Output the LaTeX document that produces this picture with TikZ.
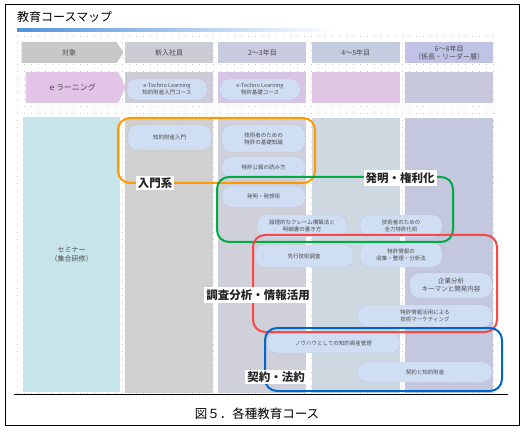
\documentclass[tikz,border=0pt]{standalone}
\usepackage{fontspec}
\setmainfont{Noto Sans CJK JP}
\usetikzlibrary{shapes.symbols, positioning}
\definecolor{headA}{RGB}{200, 200, 200}
\definecolor{headB}{RGB}{204, 204, 212}
\definecolor{headC}{RGB}{202, 202, 224}
\definecolor{headD}{RGB}{196, 205, 224}
\definecolor{headE}{RGB}{192, 194, 230}
\definecolor{elearnA}{RGB}{226, 196, 230}
\definecolor{elearnB}{RGB}{206, 203, 216}
\definecolor{elearnC}{RGB}{216, 196, 228}
\definecolor{elearnD}{RGB}{224, 198, 228}
\definecolor{elearnE}{RGB}{200, 200, 220}
\definecolor{semA}{RGB}{198, 228, 234}
\definecolor{semB}{RGB}{208, 208, 208}
\definecolor{semC}{RGB}{208, 208, 218}
\definecolor{semD}{RGB}{205, 216, 224}
\definecolor{semE}{RGB}{196, 200, 222}
\definecolor{pillfill}{RGB}{208, 222, 244}
\definecolor{pillline}{RGB}{165, 170, 212}
\definecolor{grporange}{RGB}{255, 153, 0}
\definecolor{grpgreen}{RGB}{0, 170, 68}
\definecolor{grpred}{RGB}{250, 70, 70}
\definecolor{grpblue}{RGB}{0, 102, 204}
\definecolor{baseline}{RGB}{80, 110, 135}

\begin{document}
\begin{tikzpicture}[
    x=1pt, y=-1pt,
    % Styles embedded for portability
    cell_head/.style={rectangle, inner sep=0pt, minimum width=88pt, minimum height=21pt, align=center, font=\fontsize{7}{8}\selectfont, text=black!70},
    cell_row/.style={rectangle, inner sep=0pt, minimum width=88pt, minimum height=31pt, align=center},
    cell_sem/.style={rectangle, inner sep=0pt, minimum width=88pt, minimum height=275pt, align=center},
    arrow_cell/.style={signal, signal to=east, inner sep=0pt, align=center, text=black!70},
    pill/.style={rectangle, rounded corners=9pt, inner sep=0pt, align=center, draw=pillline, densely dotted, fill=pillfill, font=\fontsize{5.5}{7}\selectfont, text=black!70},
    grp/.style={rounded corners=12pt, line width=2pt},
    grp_label/.style={fill=white, inner sep=2pt, font=\fontsize{11.5}{13}\selectfont\bfseries, text=black!85},
    bgdots/.style={gray!45, line width=0.6pt, dash pattern=on 0.6pt off 6.4pt}
]
    \useasboundingbox (0,0) rectangle (528,433);

    % --- FRAME & TITLE ---
    \draw[black, line width=1pt] (5,5) rectangle (519,425);
    \foreach \yy in {36,43,...,393}
        \draw[bgdots] (17,\yy) -- (500,\yy);
    \node[anchor=west, inner sep=0pt, font=\fontsize{12}{14}\selectfont] (title) at (17,17) {教育コースマップ};
    \shade[left color={rgb,255:red,80;green,145;blue,220}, right color=white] (17,28.5) rectangle (335,31.5);

    % --- HEADER ROW ---
    \node[arrow_cell, fill=headA, minimum width=102pt, minimum height=21pt, signal pointer angle=112, font=\fontsize{7}{8}\selectfont] (h_target) at (69,52.5) {対象};
    \node[cell_head, fill=headB] (h_new) at (169,52.5) {新入社員};
    \node[cell_head, fill=headC, right=5pt of h_new] (h_y23) {2～3年目};
    \node[cell_head, fill=headD, right=5pt of h_y23] (h_y45) {4～5年目};
    \node[cell_head, fill=headE, right=5pt of h_y45] (h_y68) {6～8年目\\（係長・リーダー層）};

    % --- E-LEARNING ROW ---
    \node[arrow_cell, fill=elearnA, minimum width=100pt, minimum height=31pt, signal pointer angle=131, font=\fontsize{8}{9}\selectfont] (e_target) at (72,87.5) {ｅラーニング};
    \node[cell_row, fill=elearnB, below=9pt of h_new] (e_new) {};
    \node[cell_row, fill=elearnC, below=9pt of h_y23] (e_y23) {};
    \node[cell_row, fill=elearnD, below=9pt of h_y45] (e_y45) {};
    \node[cell_row, fill=elearnE, below=9pt of h_y68] (e_y68) {};

    \node[pill, minimum width=80pt, minimum height=21pt] (el_ip) at (167,89.5) {e-Techno Learning\\知的財産入門コース};
    \node[pill, minimum width=80pt, minimum height=21pt] (el_pat) at (260,89.5) {e-Techno Learning\\特許基礎コース};

    % --- SEMINAR ROW ---
    \node[cell_sem, fill=semA, minimum width=97pt, font=\fontsize{7}{9}\selectfont, text=black!70] (s_target) at (71.5,254.5) {セミナー\\（集合研修）};
    \node[cell_sem, fill=semB, below=14pt of e_new] (s_new) {};
    \node[cell_sem, fill=semC, below=14pt of e_y23] (s_y23) {};
    \node[cell_sem, fill=semD, below=14pt of e_y45] (s_y45) {};
    \node[cell_sem, fill=semE, below=14pt of e_y68] (s_y68) {};

    % courses
    \node[pill, minimum width=83pt, minimum height=25pt] (c_intro) at (169.5,137.5) {知的財産入門};
    \node[pill, minimum width=83pt, minimum height=27pt] (c_basic) at (263.5,138.5) {技術者のための\\特許の基礎知識};
    \node[pill, minimum width=83pt, minimum height=21pt] (c_gazette) at (263.5,167.5) {特許公報の読み方};
    \node[pill, minimum width=83pt, minimum height=21pt] (c_invent) at (263.5,196.5) {発明・発想術};
    \node[pill, minimum width=90pt, minimum height=22pt] (c_claim) at (302,226) {論理的なクレーム構築法と\\明細書の書き方};
    \node[pill, minimum width=82pt, minimum height=22pt] (c_fullpat) at (401,226) {技術者のための\\全力特許化術};
    \node[pill, minimum width=98pt, minimum height=22pt] (c_prior) at (304,256) {先行技術調査};
    \node[pill, minimum width=82pt, minimum height=24pt] (c_collect) at (401,255) {特許情報の\\収集・整理・分析法};
    \node[pill, minimum width=82pt, minimum height=25pt, font=\fontsize{6.5}{8}\selectfont] (c_company) at (451,285.5) {企業分析\\キーマンと開発内容};
    \node[pill, minimum width=134pt, minimum height=22pt] (c_market) at (425,316) {特許情報活用による\\技術マーケティング};
    \node[pill, minimum width=133pt, minimum height=20pt] (c_knowhow) at (333.5,343) {ノウハウとしての知的資産管理};
    \node[pill, minimum width=134pt, minimum height=20pt] (c_contract) at (425,372) {契約と知的財産};

    % --- GROUPING ---
    \draw[grp, grporange] (118,118) rectangle (315,183);
    \draw[grp, grpgreen] (217,177) rectangle (453,242);
    \draw[grp, grpred] (253,235) rectangle (497,332);
    \draw[grp, grpblue] (265,328) rectangle (502,391);

    \node[grp_label] (l_intro) at (155,183) {入門系};
    \node[grp_label] (l_invent) at (400,178) {発明・権利化};
    \node[grp_label] (l_survey) at (258,295) {調査分析・情報活用};
    \node[grp_label] (l_contract) at (276,377) {契約・法約};

    % --- CAPTION ---
    \draw[baseline, line width=0.6pt] (14,394) -- (508,394);
    \node[font=\fontsize{12.5}{14}\selectfont] (caption) at (257,414) {図５．各種教育コース};
\end{tikzpicture}
\end{document}
